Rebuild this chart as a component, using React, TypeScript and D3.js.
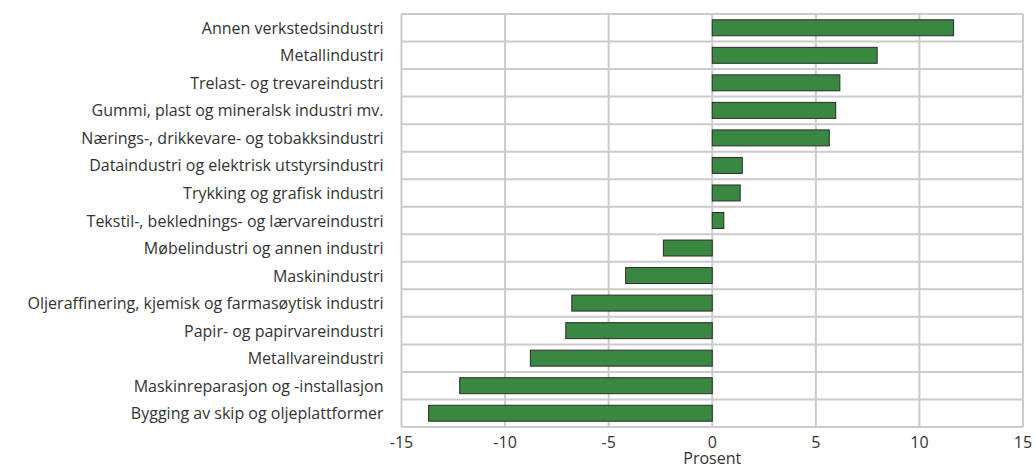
import React from "react";
import * as d3 from "d3";

const categories = [
  "Annen verkstedsindustri",
  "Metallindustri",
  "Trelast- og trevareindustri",
  "Gummi, plast og mineralsk industri mv.",
  "Nærings-, drikkevare- og tobakksindustri",
  "Dataindustri og elektrisk utstyrsindustri",
  "Trykking og grafisk industri",
  "Tekstil-, beklednings- og lærvareindustri",
  "Møbelindustri og annen industri",
  "Maskinindustri",
  "Oljeraffinering, kjemisk og farmasøytisk industri",
  "Papir- og papirvareindustri",
  "Metallvareindustri",
  "Maskinreparasjon og -installasjon",
  "Bygging av skip og oljeplattformer",
];

const values = [
  11.65, 7.96, 6.16, 5.96, 5.65, 1.45, 1.35, 0.56, -2.36, -4.18, -6.78, -7.07,
  -8.78, -12.19, -13.69,
];

const xTicks = [-15, -10, -5, 0, 5, 10, 15];
const xLabel = "Prosent";

const W = 1036;
const H = 468;
const margin = { top: 14, right: 13, bottom: 41, left: 401.5 };

export default function App() {
  const x = d3
    .scaleLinear()
    .domain([-15, 15])
    .range([margin.left, W - margin.right]);
  const y = d3
    .scaleBand()
    .domain(categories)
    .range([margin.top, H - margin.bottom])
    .paddingInner(0.42)
    .paddingOuter(0.21);
  const step = y.step();
  const font = "'Open Sans', sans-serif";
  const grid = "#cbcbcb";
  const bottom = H - margin.bottom;
  const fs = 16;

  return (
    <svg
      width={W}
      height={H}
      style={{ position: "absolute", left: 0, top: 0, background: "#fff" }}
    >
      {d3.range(categories.length + 1).map((i) => {
        const yy = margin.top + i * step;
        return (
          <line
            key={"h" + i}
            x1={margin.left}
            x2={W - margin.right}
            y1={yy}
            y2={yy}
            stroke={grid}
            strokeWidth={2}
          />
        );
      })}
      {xTicks.map((t) => (
        <line
          key={"v" + t}
          x1={x(t)}
          x2={x(t)}
          y1={margin.top}
          y2={bottom}
          stroke={grid}
          strokeWidth={2}
        />
      ))}
      {categories.map((c, i) => {
        const v = values[i];
        const x0 = x(Math.min(0, v));
        const x1 = x(Math.max(0, v));
        return (
          <rect
            key={c}
            x={x0}
            y={y(c)}
            width={x1 - x0}
            height={y.bandwidth()}
            fill="#3a8741"
            stroke="#2b2b2b"
            strokeWidth={1}
          />
        );
      })}
      {categories.map((c) => (
        <text
          key={"l" + c}
          x={margin.left - 18}
          y={(y(c) ?? 0) + y.bandwidth() / 2 + 6}
          textAnchor="end"
          fontFamily={font}
          fontSize={fs}
          fill="#333"
        >
          {c}
        </text>
      ))}
      {xTicks.map((t) => (
        <text
          key={"t" + t}
          x={x(t)}
          y={bottom + 21}
          textAnchor="middle"
          fontFamily={font}
          fontSize={fs}
          fill="#333"
        >
          {t}
        </text>
      ))}
      <text
        x={x(0)}
        y={bottom + 37}
        textAnchor="middle"
        fontFamily={font}
        fontSize={fs}
        fill="#333"
      >
        {xLabel}
      </text>
    </svg>
  );
}
